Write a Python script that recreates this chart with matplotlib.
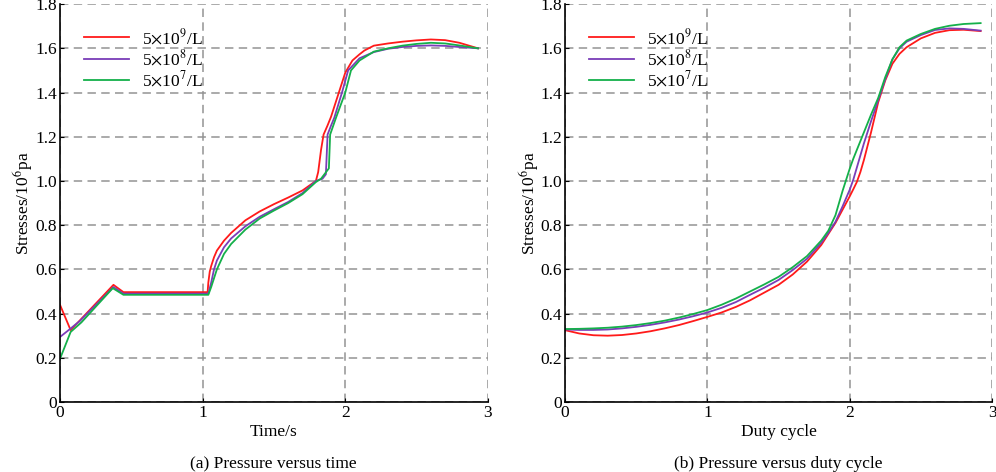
import matplotlib
matplotlib.use('Agg')
import matplotlib.pyplot as plt

plt.rcParams['font.family'] = ['Liberation Serif', 'DejaVu Serif']
plt.rcParams['mathtext.fontset'] = 'stix'
plt.rcParams['font.size'] = 12.5

labels = ['5$\\times$10$^9$/L', '5$\\times$10$^8$/L', '5$\\times$10$^7$/L']
colors = ['#ff1a1a', '#7a3db8', '#14b04a']

# (a) pressure versus time
red_t = [0, 0.075, 0.375, 0.445, 1.035, 1.04, 1.05, 1.06, 1.08, 1.1, 1.15, 1.2, 1.3, 1.4, 1.5,
         1.6, 1.7, 1.794, 1.81, 1.83, 1.848, 1.875, 1.9, 1.95, 2.0, 2.05, 2.1, 2.134, 2.2, 2.3,
         2.4, 2.5, 2.6, 2.7, 2.8, 2.93]
red_p = [0.44, 0.325, 0.53, 0.497, 0.497, 0.54, 0.59, 0.615, 0.655, 0.685, 0.73, 0.765, 0.822,
         0.862, 0.895, 0.925, 0.957, 1.0, 1.04, 1.14, 1.21, 1.25, 1.29, 1.39, 1.49, 1.545, 1.573,
         1.59, 1.612, 1.622, 1.63, 1.636, 1.64, 1.637, 1.625, 1.60]

pur_t = [0, 0.07, 0.14, 0.375, 0.445, 1.04, 1.06, 1.08, 1.1, 1.15, 1.2, 1.3, 1.4, 1.5, 1.6, 1.7,
         1.794, 1.84, 1.864, 1.876, 1.9, 1.923, 1.977, 2.02, 2.1, 2.2, 2.3, 2.4, 2.5, 2.6, 2.7,
         2.8, 2.93]
pur_p = [0.294, 0.33, 0.367, 0.52, 0.49, 0.49, 0.54, 0.60, 0.64, 0.70, 0.74, 0.795, 0.838, 0.872,
         0.905, 0.945, 1.0, 1.01, 1.03, 1.21, 1.25, 1.286, 1.40, 1.50, 1.555, 1.583, 1.598, 1.606,
         1.611, 1.613, 1.611, 1.606, 1.60]

grn_t = [0, 0.075, 0.15, 0.37, 0.445, 1.04, 1.06, 1.08, 1.1, 1.15, 1.2, 1.3, 1.4, 1.5, 1.6, 1.7,
         1.794, 1.83, 1.885, 1.894, 1.935, 2.0, 2.04, 2.1, 2.2, 2.3, 2.4, 2.5, 2.6, 2.7, 2.8, 2.93]
grn_p = [0.195, 0.317, 0.36, 0.515, 0.485, 0.485, 0.52, 0.56, 0.60, 0.67, 0.715, 0.78, 0.83,
         0.866, 0.90, 0.94, 0.995, 1.01, 1.057, 1.21, 1.286, 1.40, 1.50, 1.545, 1.585, 1.60, 1.612,
         1.62, 1.625, 1.622, 1.613, 1.60]

# (b) pressure versus duty cycle
duty = [0, 0.1, 0.2, 0.3, 0.4, 0.5, 0.6, 0.7, 0.8, 0.9, 1.0, 1.1, 1.2, 1.3, 1.4, 1.5, 1.6, 1.7,
        1.8, 1.85, 1.9, 1.95, 2.0, 2.025, 2.05, 2.075, 2.1, 2.15, 2.2, 2.25, 2.3, 2.35, 2.4, 2.5,
        2.6, 2.7, 2.8, 2.92]
red_d = [0.325, 0.31, 0.302, 0.30, 0.303, 0.31, 0.32, 0.333, 0.348, 0.366, 0.385, 0.405, 0.43,
         0.46, 0.495, 0.53, 0.577, 0.635, 0.71, 0.76, 0.81, 0.87, 0.93, 0.962, 0.995, 1.04, 1.095,
         1.22, 1.355, 1.455, 1.53, 1.575, 1.605, 1.645, 1.67, 1.682, 1.684, 1.678]
pur_d = [0.328, 0.326, 0.326, 0.328, 0.333, 0.34, 0.349, 0.36, 0.373, 0.388, 0.405, 0.426, 0.452,
         0.485, 0.517, 0.552, 0.597, 0.648, 0.72, 0.765, 0.815, 0.885, 0.96, 1.005, 1.06, 1.115,
         1.17, 1.27, 1.365, 1.46, 1.55, 1.60, 1.63, 1.66, 1.683, 1.69, 1.688, 1.68]
grn_d = [0.330, 0.331, 0.333, 0.336, 0.341, 0.348, 0.357, 0.368, 0.382, 0.398, 0.416, 0.44, 0.468,
         0.50, 0.532, 0.566, 0.61, 0.66, 0.73, 0.775, 0.845, 0.955, 1.055, 1.10, 1.14, 1.18, 1.22,
         1.30, 1.375, 1.47, 1.55, 1.605, 1.635, 1.665, 1.688, 1.702, 1.71, 1.714]

fig = plt.figure(figsize=(9.96, 4.72), dpi=100)
ax1 = fig.add_axes([0.0602, 0.1483, 0.4297, 0.843])
ax2 = fig.add_axes([0.5673, 0.1483, 0.4287, 0.843])

ax1.plot(red_t, red_p, color=colors[0], lw=1.3, label=labels[0])
ax1.plot(pur_t, pur_p, color=colors[1], lw=1.3, label=labels[1])
ax1.plot(grn_t, grn_p, color=colors[2], lw=1.3, label=labels[2])

ax2.plot(duty, red_d, color=colors[0], lw=1.3, label=labels[0])
ax2.plot(duty, pur_d, color=colors[1], lw=1.3, label=labels[1])
ax2.plot(duty, grn_d, color=colors[2], lw=1.3, label=labels[2])

for ax, xl in [(ax1, 'Time/s'), (ax2, 'Duty cycle')]:
    ax.set_xlim(0, 3)
    ax.set_ylim(0, 1.8)
    ax.set_xticks([0, 1, 2, 3])
    ax.set_yticks([0, 0.2, 0.4, 0.6, 0.8, 1.0, 1.2, 1.4, 1.6, 1.8])
    ax.set_yticklabels(['0', '0.2', '0.4', '0.6', '0.8', '1.0', '1.2', '1.4', '1.6', '1.8'])
    ax.grid(True, color='#939393', linestyle=(0, (5.5, 3.5)), linewidth=1.1)
    ax.spines['top'].set_visible(False)
    ax.spines['right'].set_visible(False)
    ax.spines['left'].set_linewidth(1.2)
    ax.spines['bottom'].set_linewidth(1.2)
    ax.tick_params(direction='in', length=3, labelsize=12.5, pad=2)
    ax.set_xlabel(xl, fontsize=12.5, labelpad=2)
    ax.set_ylabel('Stresses/10$^6$pa', fontsize=12.5, labelpad=0)
    leg = ax.legend(loc='upper left', bbox_to_anchor=(0.02, 0.98), frameon=False,
                    handlelength=2.6, handletextpad=0.75, labelspacing=0.08, fontsize=12.5)

fig.text(0.2745, 0.008, '(a) Pressure versus time', ha='center', fontsize=12.5)
fig.text(0.781, 0.008, '(b) Pressure versus duty cycle', ha='center', fontsize=12.5)

fig.savefig('out.png', dpi=100)
